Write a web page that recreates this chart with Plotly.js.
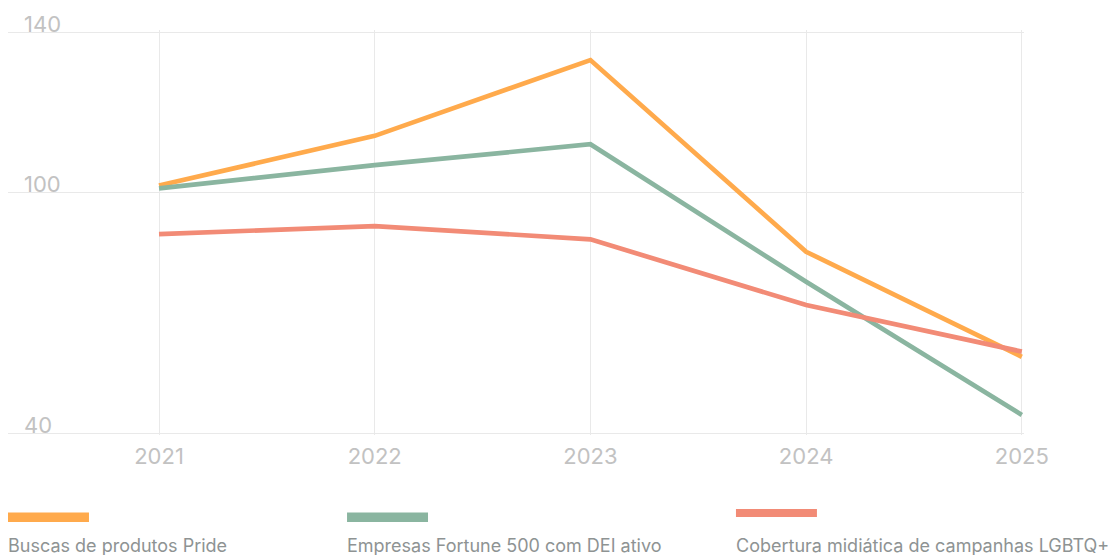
<!DOCTYPE html>
<html>
<head>
<meta charset="utf-8">
<script src="https://cdn.plot.ly/plotly-3.0.1.min.js"></script>
<style>
html,body{margin:0;padding:0;background:#fff;}
#chart{width:1109px;height:555px;}
</style>
</head>
<body>
<div id="chart"></div>
<script>
const years = [2021, 2022, 2023, 2024, 2025];
const seriesNames = ["Buscas de produtos Pride", "Empresas Fortune 500 com DEI ativo", "Cobertura midiática de campanhas LGBTQ+"];
const buscas = [101.7, 114.1, 133.0, 85.2, 59.0];
const empresas = [101.0, 106.8, 112.0, 77.7, 44.5];
const cobertura = [89.6, 91.6, 88.3, 71.9, 60.3];
const yTicks = [40, 100, 140];
const colors = ["#FFAA4C", "#8AB5A0", "#F28B76"];

const values = [buscas, empresas, cobertura];
const traces = values.map((v, i) => ({
  x: years, y: v, type: "scatter", mode: "lines", name: seriesNames[i],
  line: {color: colors[i], width: 4.7}, hoverinfo: "x+y"
}));

const font = "Inter, 'Noto Sans', sans-serif";
const swatchX = [0, 0.3337, 0.7165];
const swatchY = [[-0.2148, -0.1914], [-0.2148, -0.1914], [-0.2025, -0.1827]];
const shapes = seriesNames.map((n, i) => ({
  type: "rect", xref: "paper", yref: "paper",
  x0: swatchX[i], x1: swatchX[i] + 0.0797, y0: swatchY[i][0], y1: swatchY[i][1],
  fillcolor: colors[i], line: {width: 0}
}));
const legendText = seriesNames.map((n, i) => ({
  text: n, xref: "paper", yref: "paper", x: swatchX[i], y: -0.242,
  xanchor: "left", yanchor: "top", showarrow: false, xshift: -2,
  font: {family: font, size: 18, color: "#8E9393"}
}));
const yLabels = yTicks.map(t => ({
  text: String(t), xref: "paper", yref: "y", x: 0.014, y: t,
  xanchor: "left", yanchor: "bottom", showarrow: false, yshift: -7,
  font: {family: font, size: 22, color: "#C2C2C2"}
}));

const layout = {
  width: 1109, height: 555,
  margin: {l: 8, r: 85, t: 30, b: 120},
  paper_bgcolor: "#fff", plot_bgcolor: "#fff",
  showlegend: false,
  xaxis: {
    range: [2020.3, 2025.01], tickvals: years, ticktext: years.map(String),
    showgrid: true, gridcolor: "#E9E9E9", gridwidth: 1, zeroline: false,
    showline: false, ticks: "", ticklabelstandoff: 6,
    tickfont: {family: font, size: 22, color: "#C2C2C2"}
  },
  yaxis: {
    range: [39.5, 140.5], tickvals: yTicks, showticklabels: false,
    showgrid: true, gridcolor: "#E9E9E9", gridwidth: 1, zeroline: false,
    showline: false, ticks: ""
  },
  shapes: shapes, annotations: legendText.concat(yLabels)
};
Plotly.newPlot("chart", traces, layout, {displayModeBar: false, staticPlot: true});
</script>
</body>
</html>
